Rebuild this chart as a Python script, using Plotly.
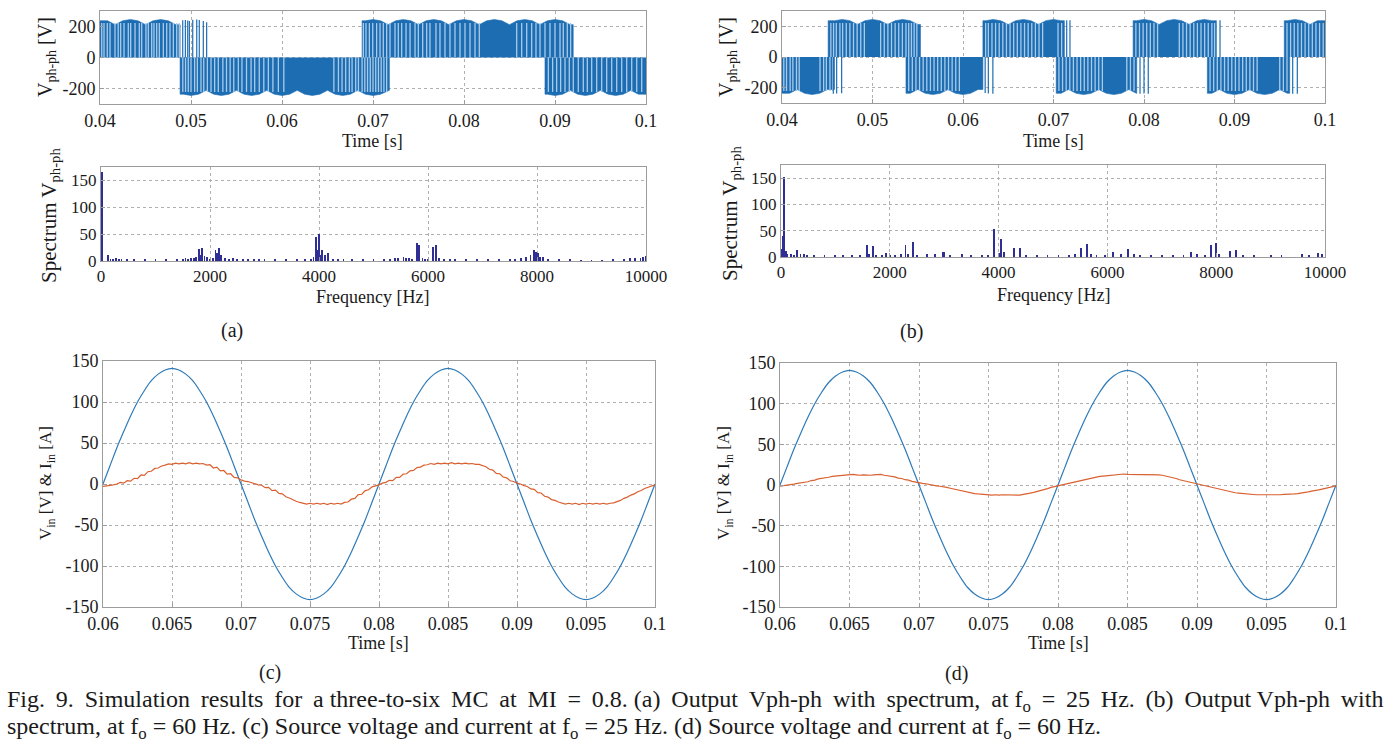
import numpy as np
import plotly.graph_objects as go

W, H = 1399, 755
FONT = "Liberation Serif"

# ---------------- (a) / (b) : output line-to-line PWM voltage ----------------
# envelope of the PWM pulses (input line-to-line voltage ripple), one knot every 1/1200 s
ENV_T = np.linspace(0.04, 0.10, 73)
ENV_MAG = [245, 237, 212, 237, 245, 237, 212, 237, 245, 237, 212, 237,
           245, 237, 212, 237, 245, 237, 212, 237, 245, 237, 212, 237,
           245, 237, 212, 237, 245, 237, 212, 237, 245, 237, 212, 237,
           245, 237, 212, 237, 245, 237, 212, 237, 245, 237, 212, 237,
           245, 237, 212, 237, 245, 237, 212, 237, 245, 237, 212, 237,
           245, 237, 212, 237, 245, 237, 212, 237, 245, 237, 212, 237,
           245]

# pulse trains: (start [s], end [s], polarity)
A_SEGMENTS = [(0.0400, 0.0488, 1), (0.0488, 0.0718, -1),
              (0.0688, 0.0920, 1), (0.0889, 0.1000, -1)]
B_SEGMENTS = [(0.0400, 0.0458, -1), (0.0451, 0.0553, 1), (0.0537, 0.0622, -1),
              (0.0622, 0.0712, 1), (0.0703, 0.0792, -1), (0.0788, 0.0880, 1),
              (0.0870, 0.0961, -1), (0.0955, 0.1000, 1)]

# light gaps between pulses inside the trains
A_GAP_POS = [0.04019, 0.04044, 0.0408, 0.0411, 0.04165, 0.042, 0.04227, 0.04264, 0.04311,
             0.04337, 0.04385, 0.04432, 0.04458, 0.04505, 0.04531, 0.04568, 0.04593,
             0.04623, 0.04652, 0.04696, 0.04733, 0.04769, 0.04806, 0.04843, 0.04871,
             0.06894, 0.06923, 0.0696, 0.06997, 0.0704, 0.07077, 0.07113, 0.0715, 0.07187,
             0.07242, 0.07278, 0.07315, 0.07363, 0.07407, 0.07462, 0.07498, 0.07546,
             0.0759, 0.07626, 0.07692, 0.07736, 0.07791, 0.07846, 0.07901, 0.07956,
             0.08011, 0.08066, 0.08121, 0.08168, 0.08579, 0.08634, 0.08689, 0.08744,
             0.08791, 0.08835, 0.0889, 0.08945, 0.09, 0.09055, 0.09091, 0.09135, 0.09172]
A_GAP_NEG = [0.0491, 0.0494, 0.0497, 0.0500, 0.0504, 0.0507, 0.0511, 0.0514, 0.0518,
             0.0522, 0.0526, 0.0530, 0.0535, 0.0539, 0.0543, 0.0547, 0.0552, 0.0556,
             0.0561, 0.0566, 0.0570, 0.0575, 0.0580, 0.0585, 0.0590, 0.0596, 0.0602,
             0.0657, 0.0662, 0.0666, 0.0670, 0.0674, 0.0677, 0.0681, 0.0684, 0.0688,
             0.0691, 0.0694, 0.0697, 0.0700, 0.0703, 0.0706, 0.0709, 0.0712, 0.0715,
             0.08927, 0.08974, 0.09018, 0.09062, 0.0911, 0.09157, 0.09201, 0.09256,
             0.09311, 0.09355, 0.09403, 0.09458, 0.09513, 0.09568, 0.09623, 0.09678,
             0.09733, 0.09788, 0.09843, 0.09898, 0.09953]
B_GAP_POS = [0.0454, 0.0457, 0.0460, 0.0464, 0.0467, 0.0471, 0.0475, 0.0479, 0.0483,
             0.0487, 0.0491, 0.0509, 0.0513, 0.0517, 0.0521, 0.0525, 0.0529, 0.0533,
             0.0537, 0.0540, 0.0543, 0.0546, 0.0549,
             0.0625, 0.0628, 0.0632, 0.0636, 0.0640, 0.0644, 0.0648, 0.0652, 0.0656,
             0.0660, 0.0664, 0.0668, 0.0672, 0.0676, 0.0680, 0.0684, 0.0688, 0.0705, 0.0709,
             0.0791, 0.0795, 0.0799, 0.0803, 0.0807, 0.0811, 0.0815, 0.0839, 0.0843,
             0.0847, 0.0851, 0.0855, 0.0859, 0.0863, 0.0867, 0.0871, 0.0875, 0.0878,
             0.0958, 0.0962, 0.0966, 0.0970, 0.0974, 0.0978, 0.0982, 0.0986, 0.0990,
             0.0994, 0.0998]
B_GAP_NEG = [0.0402, 0.0405, 0.0409, 0.0412, 0.0416, 0.0419, 0.0442, 0.0446, 0.0449,
             0.0453, 0.0456,
             0.0540, 0.0544, 0.0548, 0.0552, 0.0556, 0.0560, 0.0564, 0.0568, 0.0572,
             0.0576, 0.0580, 0.0584, 0.0588, 0.0592, 0.0596,
             0.0706, 0.0710, 0.0714, 0.0718, 0.0722, 0.0726, 0.0730, 0.0734, 0.0738,
             0.0742, 0.0746, 0.0750, 0.0754, 0.0781, 0.0785, 0.0789,
             0.0873, 0.0877, 0.0881, 0.0885, 0.0889, 0.0893, 0.0897, 0.0901, 0.0905,
             0.0909, 0.0913, 0.0917, 0.0921, 0.0925, 0.0950, 0.0954, 0.0958]
GAP_MAG = 222

# isolated pulses at the edges of the trains
A_PULSE_T = [0.04909, 0.04938, 0.04964, 0.04982, 0.05019, 0.05063, 0.05091, 0.05135, 0.05172]
A_PULSE_V = [240, 242, 238, 236, 244, 245, 242, 236, 228]
B_PULSE_T = [0.04567, 0.04604, 0.04659, 0.06245, 0.0628, 0.0633, 0.07146, 0.07182,
             0.07956, 0.0800, 0.08047, 0.0884, 0.09643, 0.09694]
B_PULSE_V = [-240, -238, -236, -235, -238, -240, 240, 240, -240, -238, -240, 240, -240, -240]

# ---------------- spectra ----------------
SPEC_A_F = [25, 125, 175, 225, 275, 325, 375, 475, 600, 800, 1000, 1200, 1400, 1500, 1550,
            1600, 1650, 1700, 1750, 1800, 1825, 1850, 1900, 1950, 2000, 2050, 2100, 2125,
            2160, 2200, 2275, 2350, 2420, 2500, 2600, 2700, 2800, 2900, 3000, 3200, 3400,
            3600, 3750, 3850, 3900, 3950, 3975, 4000, 4030, 4060, 4110, 4160, 4250, 4350,
            4450, 4600, 4800, 5000, 5200, 5300, 5400, 5450, 5550, 5600, 5650, 5700, 5800,
            5840, 5900, 5950, 6000, 6090, 6140, 6200, 6300, 6400, 6500, 6700, 6900, 7100,
            7300, 7500, 7600, 7700, 7800, 7880, 7940, 7980, 8020, 8060, 8110, 8200, 8400,
            8600, 8800, 9000, 9200, 9400, 9600, 9700, 9800, 9900, 9950, 9990]
SPEC_A_V = [165, 11, 4, 4, 5, 3, 4, 2, 2, 2, 2, 2, 3, 4, 5,
            4, 5, 6, 8, 22, 12, 25, 10, 8, 4, 5, 20, 14,
            25, 12, 6, 4, 5, 3, 2, 3, 2, 2, 2, 2, 3,
            2, 3, 4, 8, 45, 20, 50, 12, 20, 12, 14, 4, 3,
            2, 3, 2, 3, 3, 4, 6, 5, 7, 6, 5, 4, 33,
            30, 6, 4, 4, 27, 29, 5, 4, 3, 2, 2, 2, 2,
            2, 3, 4, 5, 8, 12, 20, 16, 14, 8, 8, 4, 2,
            2, 1, 1, 1, 2, 4, 5, 6, 5, 8, 10]
SPEC_B_F = [20, 40, 60, 90, 120, 180, 240, 300, 360, 420, 480, 600, 800, 990, 1140, 1300,
            1450, 1580, 1620, 1690, 1750, 1850, 1930, 2000, 2100, 2200, 2290, 2340, 2420,
            2500, 2680, 2830, 2970, 3000, 3100, 3320, 3500, 3700, 3800, 3910, 4000, 4050,
            4100, 4290, 4400, 4500, 4700, 4900, 5100, 5300, 5400, 5520, 5630, 5700, 5800,
            5950, 6100, 6250, 6380, 6490, 6600, 6800, 7000, 7200, 7400, 7530, 7650, 7800,
            7900, 8000, 8050, 8250, 8370, 8500, 8700, 9000, 9200, 9580, 9700, 9870, 9950]
SPEC_B_V = [15, 40, 152, 12, 6, 5, 4, 14, 6, 5, 2, 2, 2, 4, 3, 2,
            3, 22, 5, 20, 4, 3, 8, 4, 3, 5, 23, 6, 29,
            3, 5, 5, 10, 10, 3, 6, 3, 3, 2, 53, 8, 35,
            10, 17, 18, 4, 3, 3, 4, 4, 5, 18, 25, 6, 4,
            3, 10, 6, 15, 5, 4, 3, 3, 4, 3, 10, 5, 4,
            22, 26, 6, 12, 14, 2, 2, 2, 3, 5, 4, 8, 5]

# ---------------- (c) / (d) : source voltage and current ----------------
T_V = np.linspace(0.06, 0.10, 81)
V_IN = [0, 22, 44, 64, 83, 100, 114, 126, 134, 139, 141, 139, 134, 126, 114, 100, 83, 64, 44, 22,
        0, -22, -44, -64, -83, -100, -114, -126, -134, -139, -141, -139, -134, -126, -114, -100,
        -83, -64, -44, -22,
        0, 22, 44, 64, 83, 100, 114, 126, 134, 139, 141, 139, 134, 126, 114, 100, 83, 64, 44, 22,
        0, -22, -44, -64, -83, -100, -114, -126, -134, -139, -141, -139, -134, -126, -114, -100,
        -83, -64, -44, -22, 0]
T_I = np.linspace(0.06, 0.10, 161)
I_IN_C = [-3, -2.5, -2, -1, 0, 2, 1, 4, 3.5, 7, 6.5, 11, 10.5, 15, 15.5, 19, 19.5, 22, 23, 24.5,
          24, 25.5, 24.5, 25.5, 24.5, 26, 24.5, 25.5, 24.5, 25, 23, 23.5, 19.5, 20.5, 16, 16.5, 12, 12.5, 8, 7.5,
          5, 3.5, 3, 1.5, 0.5, -1, -1.5, -4.5, -4, -8, -7.5, -11.5, -12, -15.5, -17, -19.5, -21, -22.5, -23.5, -24.5,
          -23.5, -24.5, -23.5, -24.5, -23.5, -25, -23.5, -24.5, -23.5, -24.5, -22.5, -22, -18.5, -17.5, -13, -12.5, -8, -7, -3.5, -2.5,
          -1, 1, 2, 4.5, 4, 8, 8, 12, 12.5, 16, 16.5, 20, 20.5, 23, 23.5, 25, 24, 25.5, 24.5, 25.5,
          24.5, 26, 24.5, 25.5, 24.5, 25.5, 24.5, 25, 24, 24, 22.5, 21, 18, 17, 13, 12.5, 8.5, 7.5, 4, 3,
          1, 0, -2, -3, -6, -6.5, -10.5, -11, -15, -16, -19, -20, -22, -23, -24.5, -23.5, -24.5, -23.5, -25, -23.5,
          -24.5, -23.5, -24.5, -23.5, -24.5, -23.5, -24.5, -23.5, -23, -21.5, -20, -17.5, -16, -13.5, -12, -9.5, -8, -5.5, -4, -2,
          -1]
I_IN_D = [-1.5, -1, -0.5, 0.5, 1, 2, 2.5, 3.5, 4, 5.5, 6, 7.5, 8, 9, 9.5, 10.5, 11, 11.5, 12, 12.5,
          12.5, 13, 12.5, 12, 12.5, 12, 12, 12.5, 12.5, 13, 12, 11.5, 10.5, 10, 8.5, 8, 6.5, 6, 4.5, 3.5,
          2.5, 2, 1.5, 0.5, 0, -1, -1.5, -2, -3, -4, -5, -5.5, -7, -7.5, -9, -9.5, -10.5, -11, -11.5, -12,
          -12, -12.5, -12, -12.5, -12, -12, -12.5, -12, -12, -12.5, -11.5, -11, -10, -9, -8, -7, -5.5, -4.5, -3, -2,
          -1, 0, 1, 2, 3, 4, 5, 6, 7, 8, 9, 9.5, 10.5, 11, 11.5, 12, 12.5, 13, 13, 13.5,
          13, 13, 12.5, 13, 12.5, 12.5, 12.5, 12.5, 12.5, 12.5, 12, 11, 10.5, 9, 8, 6.5, 5.5, 4, 3, 2,
          1, 0, -0.5, -1.5, -2.5, -3.5, -4.5, -5.5, -6.5, -7.5, -8.5, -9.5, -10, -10.5, -11, -11.5, -12, -12, -12, -12,
          -12, -12, -12.5, -12, -12, -11.5, -11.5, -11, -11, -10.5, -10, -9, -8.5, -7.5, -7, -6, -5, -4, -3, -2,
          -1]

# ---------------- styling ----------------
PWM_BLUE = "#1d6db3"
GAP_BLUE = "#a9cbea"
SPEC_COL = "#2e2e94"
V_COL = "#2f7ab8"
I_COL = "#d9602f"

fig = go.Figure()


def stems(times, values):
    xs, ys = [], []
    for t, v in zip(times, values):
        xs += [t, t, None]
        ys += [0, v, None]
    return xs, ys


def add_pwm(segments, gap_pos, gap_neg, pulse_t, pulse_v, xa, ya):
    for (s, e, sg) in segments:
        idx = [i for i, t in enumerate(ENV_T) if s < t < e]
        ts = [ENV_T[i] for i in idx]
        ms = [sg * ENV_MAG[i] for i in idx]
        xs = [s, s] + ts + [e, e]
        ys = [0, ms[0]] + ms + [ms[-1], 0]
        fig.add_trace(go.Scatter(x=xs, y=ys, mode="lines", fill="toself",
                                 fillcolor=PWM_BLUE, line=dict(width=0.6, color=PWM_BLUE),
                                 xaxis=xa, yaxis=ya, hoverinfo="skip", showlegend=False))
    gx, gy = stems(gap_pos + gap_neg, [GAP_MAG] * len(gap_pos) + [-GAP_MAG] * len(gap_neg))
    fig.add_trace(go.Scatter(x=gx, y=gy, mode="lines", line=dict(color=GAP_BLUE, width=1.3),
                             xaxis=xa, yaxis=ya, hoverinfo="skip", showlegend=False))
    px_, py_ = stems(pulse_t, pulse_v)
    fig.add_trace(go.Scatter(x=px_, y=py_, mode="lines", line=dict(color=PWM_BLUE, width=1.2),
                             xaxis=xa, yaxis=ya, hoverinfo="skip", showlegend=False))


add_pwm(A_SEGMENTS, A_GAP_POS, A_GAP_NEG, A_PULSE_T, A_PULSE_V, "x", "y")
add_pwm(B_SEGMENTS, B_GAP_POS, B_GAP_NEG, B_PULSE_T, B_PULSE_V, "x3", "y3")

fig.add_trace(go.Bar(x=SPEC_A_F, y=SPEC_A_V, width=15,
                     marker=dict(color=SPEC_COL, line=dict(width=0)),
                     xaxis="x2", yaxis="y2", showlegend=False))
fig.add_trace(go.Bar(x=SPEC_B_F, y=SPEC_B_V, width=15,
                     marker=dict(color=SPEC_COL, line=dict(width=0)),
                     xaxis="x4", yaxis="y4", showlegend=False))

for xa, ya, cur in (("x5", "y5", I_IN_C), ("x6", "y6", I_IN_D)):
    fig.add_trace(go.Scatter(x=T_V, y=V_IN, mode="lines",
                             line=dict(color=V_COL, width=1.2, shape="spline"),
                             xaxis=xa, yaxis=ya, showlegend=False))
    fig.add_trace(go.Scatter(x=T_I, y=cur, mode="lines", line=dict(color=I_COL, width=1.2),
                             xaxis=xa, yaxis=ya, showlegend=False))


def dom_x(x0, x1):
    return [x0 / W, x1 / W]


def dom_y(top, bottom):
    return [1 - bottom / H, 1 - top / H]


def ax(domain, rng, tickvals, ticktext, anchor, size=18):
    return dict(domain=domain, range=rng, tickvals=tickvals, ticktext=ticktext, anchor=anchor,
                showline=True, linecolor="#9c9c9c", linewidth=1, mirror=True,
                showgrid=True, gridcolor="#b0b0b0", griddash="dot", gridwidth=1,
                zeroline=False, ticks="inside", ticklen=4, tickcolor="#9c9c9c", automargin=False,
                tickfont=dict(family=FONT, size=size, color="#1a1a1a"), fixedrange=True)


T1_V = [0.04, 0.05, 0.06, 0.07, 0.08, 0.09, 0.1]
T1_L = ["0.04", "0.05", "0.06", "0.07", "0.08", "0.09", "0.1"]
Y1_V = [-200, 0, 200]
Y1_L = ["-200", "0", "200"]
F_V = [0, 2000, 4000, 6000, 8000, 10000]
F_L = ["0", "2000", "4000", "6000", "8000", "10000"]
S_V = [0, 50, 100, 150]
S_L = ["0", "50", "100", "150"]
T2_V = [0.06, 0.065, 0.07, 0.075, 0.08, 0.085, 0.09, 0.095, 0.1]
T2_L = ["0.06", "0.065", "0.07", "0.075", "0.08", "0.085", "0.09", "0.095", "0.1"]
Y2_V = [-150, -100, -50, 0, 50, 100, 150]
Y2_L = ["-150", "-100", "-50", "0", "50", "100", "150"]

fig.update_layout(
    width=W, height=H, margin=dict(l=0, r=0, t=0, b=0, autoexpand=False),
    paper_bgcolor="white", plot_bgcolor="white", barmode="overlay", bargap=0,
    font=dict(family=FONT, color="#1a1a1a"),
    xaxis=ax(dom_x(100, 646), [0.04, 0.1], T1_V, T1_L, "y"),
    yaxis=ax(dom_y(11, 104), [-300, 300], Y1_V, Y1_L, "x"),
    xaxis2=ax(dom_x(101, 646), [0, 10000], F_V, F_L, "y2", 17),
    yaxis2=ax(dom_y(167, 261), [0, 175], S_V, S_L, "x2", 17),
    xaxis3=ax(dom_x(782, 1325), [0.04, 0.1], T1_V, T1_L, "y3"),
    yaxis3=ax(dom_y(11, 103), [-300, 300], Y1_V, Y1_L, "x3"),
    xaxis4=ax(dom_x(781, 1325), [0, 10000], F_V, F_L, "y4", 17),
    yaxis4=ax(dom_y(165, 257), [0, 175], S_V, S_L, "x4", 17),
    xaxis5=ax(dom_x(103, 655), [0.06, 0.1], T2_V, T2_L, "y5"),
    yaxis5=ax(dom_y(361, 607), [-150, 150], Y2_V, Y2_L, "x5"),
    xaxis6=ax(dom_x(780, 1336), [0.06, 0.1], T2_V, T2_L, "y6"),
    yaxis6=ax(dom_y(363, 607), [-150, 150], Y2_V, Y2_L, "x6"),
)


def note(text, x, y, size=18, angle=0, xanchor="center"):
    fig.add_annotation(text=text, x=x / W, y=1 - y / H, xref="paper", yref="paper",
                       showarrow=False, textangle=angle, xanchor=xanchor, yanchor="middle",
                       font=dict(family=FONT, size=size, color="#1a1a1a"))


note("Time [s]", 372, 141)
note("Time [s]", 1053, 141)
note("Frequency [Hz]", 372, 297)
note("Frequency [Hz]", 1053, 295)
note("Time [s]", 378, 643)
note("Time [s]", 1058, 643)
note("V<sub>ph-ph</sub> [V]", 46, 57, 20, -90)
note("V<sub>ph-ph</sub> [V]", 727, 57, 20, -90)
note("Spectrum V<sub>ph-ph</sub>", 50, 216, 21, -90)
note("Spectrum V<sub>ph-ph</sub>", 731, 214, 21, -90)
note("V<sub>in</sub> [V] &amp; I<sub>in</sub> [A]", 47, 483, 17, -90)
note("V<sub>in</sub> [V] &amp; I<sub>in</sub> [A]", 725, 483, 17, -90)
note("(a)", 232, 330, 20)
note("(b)", 912, 331, 20)
note("(c)", 270, 672, 20)
note("(d)", 956, 673, 20)

CAP1_WORDS = ("Fig. 9. Simulation results for a three-to-six MC at MI = 0.8. (a) Output Vph-ph with "
              "spectrum, at f<sub>o</sub> = 25 Hz. (b) Output Vph-ph with").split(" ")
CAP2 = ("spectrum, at f<sub>o</sub> = 60 Hz. (c) Source voltage and current at f<sub>o</sub> = 25 Hz. "
        "(d) Source voltage and current at f<sub>o</sub> = 60 Hz.")
# first caption line is justified in the reference: widen its word gaps a little
cap1 = ""
for i, wd in enumerate(CAP1_WORDS):
    if i == 0:
        cap1 = wd
    elif i % 6 == 0:
        cap1 += " " + wd
    else:
        cap1 += " \u2009" + wd
note(cap1, 5, 701, 24, 0, "left")
note(CAP2, 5, 728, 24, 0, "left")

fig.write_html("out.html", config={"displayModeBar": False, "staticPlot": False},
               post_script="document.body.style.margin='0';document.body.style.overflow='hidden';")
